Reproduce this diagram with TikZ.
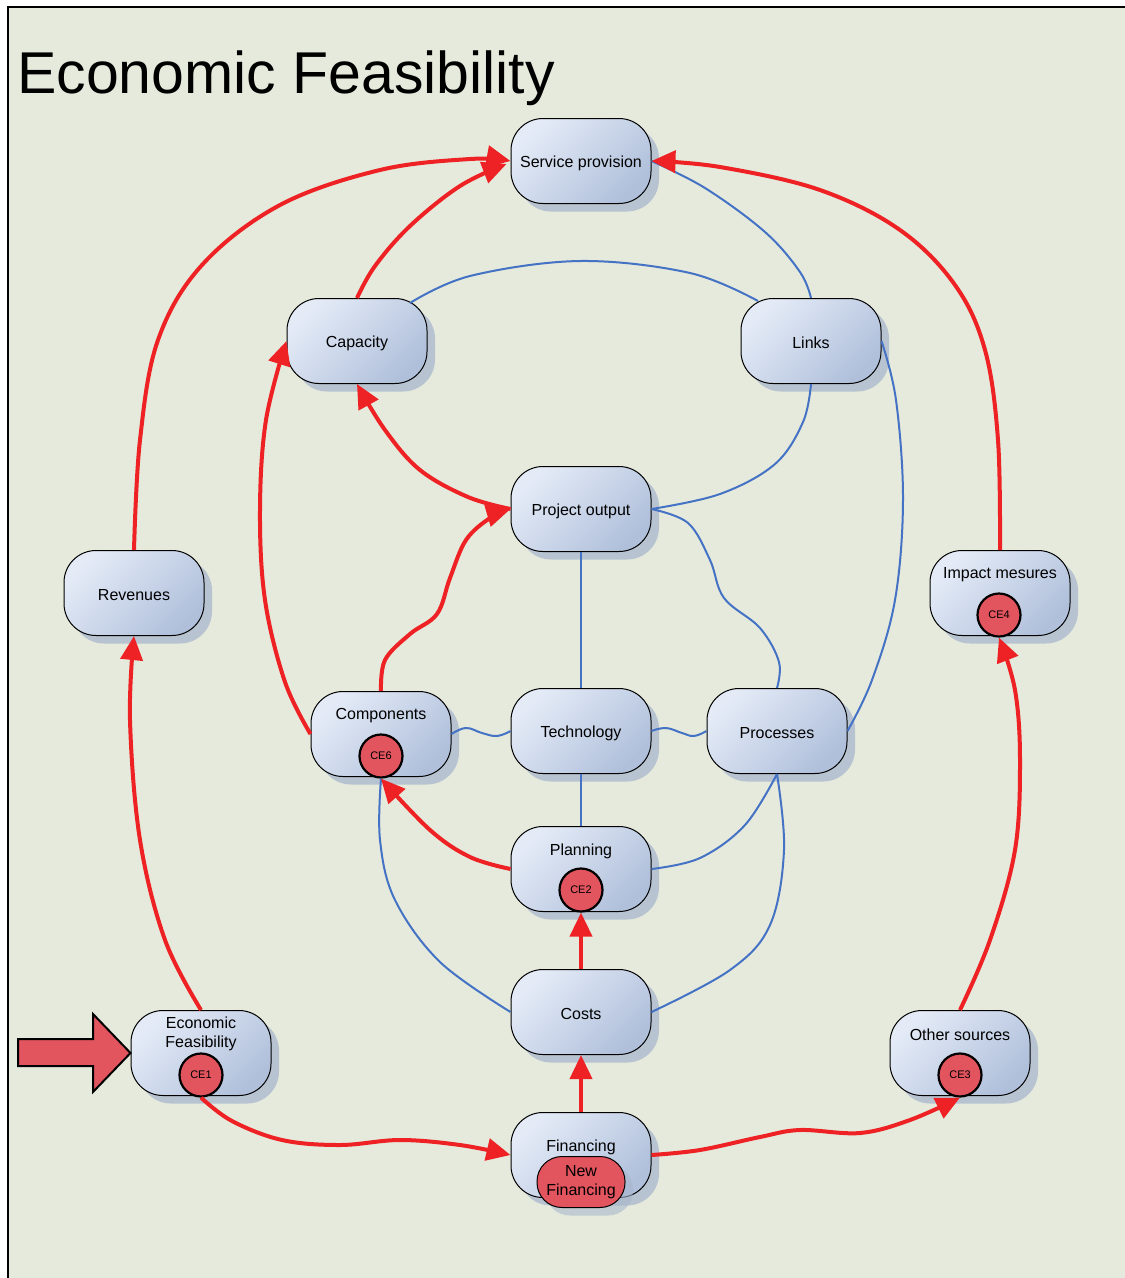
\documentclass[tikz,border=0pt]{standalone}
\usepackage{fontspec}
\setmainfont{Liberation Sans}
\usetikzlibrary{arrows.meta,shadows,calc}
\definecolor{bgc}{RGB}{230,234,220}
\definecolor{boxlight}{RGB}{228,235,247}
\definecolor{boxdark}{RGB}{176,192,219}
\definecolor{shadowc}{RGB}{168,183,204}
\definecolor{redc}{RGB}{238,34,36}
\definecolor{bluec}{RGB}{68,114,196}
\definecolor{badgec}{RGB}{226,84,94}
\begin{document}
\begin{tikzpicture}[x=1pt,y=-1pt,
  box/.style={rectangle, rounded corners=32pt, minimum width=140pt, minimum height=85pt,
    draw=black, line width=1pt, top color=boxlight, bottom color=boxdark, shading angle=45,
    drop shadow={shadow xshift=8pt, shadow yshift=-8pt, fill=shadowc, opacity=0.75},
    inner sep=0pt},
  txt/.style={font=\fontsize{16}{19}\selectfont, inner sep=0pt, align=center, yshift=-2pt},
  badge/.style={circle, draw=black, line width=2.2pt, fill=badgec, minimum size=43pt,
    inner sep=0pt, font=\fontsize{11}{13}\selectfont},
  flow/.style={draw=redc, line width=4pt, -{Triangle[length=24pt,width=22pt]}},
  link/.style={draw=bluec, line width=2pt},
  blockarrow/.style={draw=black, line width=2pt, fill=badgec, line join=miter},
]
\useasboundingbox (0,0) rectangle (1125,1278);
% page background and frame
\fill[white] (0,0) rectangle (1125,1278);
\fill[bgc] (8,7) rectangle (1125,1278);
\draw[line width=2.5pt] (8,1278) -- (8,7) -- (1125,7);

\node[anchor=base west, inner sep=0pt, font=\fontsize{59}{60}\selectfont] (title) at (17,93) {Economic Feasibility};

% boxes
\node[box] (sp)   at (581,161)  {};
\node[txt] (sptx) at (sp.center) {Service provision};
\node[box] (cap)  at (357,341)  {};
\node[txt] (captx) at (cap.center) {Capacity};
\node[box] (lnk)  at (811,341)  {};
\node[txt] (lnktx) at (lnk.center) {Links};
\node[box] (po)   at (581,509)  {};
\node[txt] (potx) at (po.center) {Project output};
\node[box] (rev)  at (134,593)  {};
\node[txt] (revtx) at (rev.center) {Revenues};
\node[box] (imp)  at (1000,593) {};
\node[txt] (imptx) at (1000,573) {Impact mesures};
\node[badge] (ce4) at (999,615) {CE4};
\node[box] (cmp)  at (381,734)  {};
\node[txt] (cmptx) at (381,714) {Components};
\node[badge] (ce6) at (381,756) {CE6};
\node[box] (tec)  at (581,731)  {};
\node[txt] (tectx) at (tec.center) {Technology};
\node[box] (prc)  at (777,731)  {};
\node[txt] (prctx) at (prc.center) {Processes};
\node[box] (pln)  at (581,869)  {};
\node[txt] (plntx) at (581,849) {Planning};
\node[badge] (ce2) at (581,890) {CE2};
\node[box] (cst)  at (581,1012) {};
\node[txt] (csttx) at (cst.center) {Costs};
\node[box] (ef)   at (201,1053) {};
\node[txt] (eftx) at (201,1032) {Economic\\Feasibility};
\node[badge] (ce1) at (201,1075) {CE1};
\node[box] (oth)  at (960,1053) {};
\node[txt] (othtx) at (960,1033) {Other sources};
\node[badge] (ce3) at (960,1075) {CE3};
\node[box] (fin)  at (581,1155) {};
\node[txt] (fintx) at (581,1145) {Financing};
\node[rectangle, rounded corners=25pt, minimum width=88pt, minimum height=51pt, draw=black,
  line width=1pt, fill=badgec, inner sep=0pt, font=\fontsize{16}{19}\selectfont, align=center,
  drop shadow={shadow xshift=8pt, shadow yshift=-8pt, fill=shadowc, opacity=0.6}]
  (nf) at (581,1182) {New\\Financing};

% entry arrow
\draw[blockarrow] (ef.west) -- (93,1014) -- (93,1039) -- (18,1039) -- (18,1066) -- (93,1066) -- (93,1092) -- cycle;

% blue links
\draw[link] plot[smooth, tension=0.6] coordinates {(sp.east) (705,188) (765,232) (800,272) (lnk.north)};
\draw[link] plot[smooth, tension=0.6] coordinates {($(cap.north)+(53,5)$) (470,276) (580,261) (690,273) ($(lnk.north)+(-53,3)$)};
\draw[link] plot[smooth, tension=0.6] coordinates {(lnk.south) (803,422) (775,464) (720,494) (po.east)};
\draw[link] plot[smooth, tension=0.6] coordinates {(po.east) (688,523) (710,560) (724,598) (760,628) (779,662) (prc.north)};
\draw[link] plot[smooth, tension=0.6] coordinates {(lnk.east) (896,400) (903,500) (895,600) (872,680) (prc.east)};
\draw[link] (po.south) -- (tec.north);
\draw[link] (tec.south) -- (pln.north);
\draw[link] plot[smooth, tension=0.7] coordinates {(cmp.east) (466,728) (482,733) (497,736) (tec.west)};
\draw[link] plot[smooth, tension=0.7] coordinates {(tec.east) (666,728) (682,733) (694,736) (prc.west)};
\draw[link] plot[smooth, tension=0.6] coordinates {(pln.east) (700,858) (745,825) (prc.south)};
\draw[link] plot[smooth, tension=0.6] coordinates {(prc.south) (784,850) (770,925) (730,970) (cst.east)};
\draw[link] plot[smooth, tension=0.6] coordinates {(ce6.south) (380,840) (395,900) (440,962) (cst.west)};

% red flows
\draw[flow] plot[smooth, tension=0.6] coordinates {(rev.north) (140,440) (158,340) (202,265) (280,205) (380,170) (470,159) (sp.west)};
\draw[flow] plot[smooth, tension=0.6] coordinates {(cap.north) (375,266) (410,226) (460,186) ($(sp.west)+(-4,3)$)};
\draw[flow] plot[smooth, tension=0.6] coordinates {(imp.north) (998,440) (985,350) (955,285) (900,230) (820,190) (720,167) (sp.east)};
\draw[flow] plot[smooth, tension=0.6] coordinates {(po.west) (468,497) (420,470) (385,430) (cap.south)};
\draw[flow] plot[smooth, tension=0.6] coordinates {(cmp.north) (385,660) (410,634) (437,614) (450,578) (466,540) (490,518) (po.west)};
\draw[flow] plot[smooth, tension=0.6] coordinates {(cmp.west) (285,682) (265,600) (260,510) (266,420) (cap.west)};
\draw[flow] plot[smooth, tension=0.6] coordinates {(pln.west) (470,857) (430,830) (ce6.south)};
\draw[flow] (cst.north) -- (ce2.south);
\draw[flow] (fin.north) -- (cst.south);
\draw[flow] plot[smooth, tension=0.6] coordinates {(ce1.south) (232,1121) (282,1140) (340,1145) (400,1140) (460,1145) (fin.west)};
\draw[flow] plot[smooth, tension=0.6] coordinates {(fin.east) (700,1150) (760,1137) (800,1130) (860,1133) (910,1120) (ce3.south)};
\draw[flow] plot[smooth, tension=0.6] coordinates {(oth.north) (990,940) (1015,850) (1020,760) (1015,690) (ce4.south)};
\draw[flow] plot[smooth, tension=0.6] coordinates {(ef.north) (165,940) (140,840) (130,720) (rev.south)};
\end{tikzpicture}
\end{document}
